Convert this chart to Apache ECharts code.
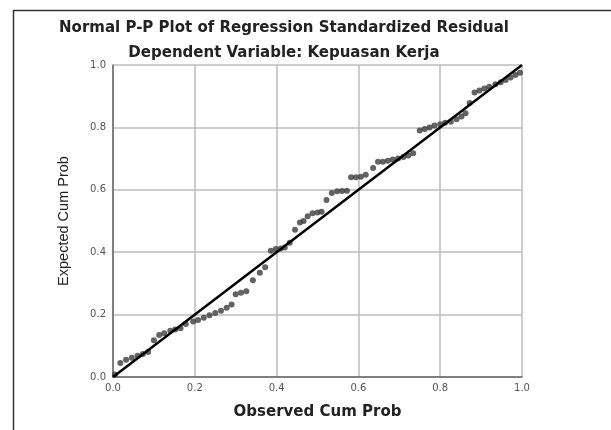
<!DOCTYPE html>
<html>
<head>
<meta charset="utf-8">
<script src="https://cdn.jsdelivr.net/npm/echarts@6/dist/echarts.min.js"></script>
<style>html,body{margin:0;padding:0;background:#fff;}#c{width:611px;height:430px;}</style>
</head>
<body>
<div id="c"></div>
<script>
var titleText = 'Normal P-P Plot of Regression Standardized Residual';
var subtitleText = 'Dependent Variable: Kepuasan Kerja';
var xName = 'Observed Cum Prob';
var yName = 'Expected Cum Prob';
var tickValues = [0, 0.2, 0.4, 0.6, 0.8, 1.0];
var observed = [
  0.005,0.018,0.032,0.046,0.060,0.073,0.086,
  0.100,0.113,0.125,0.140,0.152,0.165,0.178,
  0.196,0.208,0.222,0.236,0.250,0.264,0.278,0.290,
  0.300,0.313,0.326,0.342,0.359,0.372,
  0.386,0.398,0.410,0.420,0.432,0.445,0.457,0.466,0.476,0.488,0.500,0.510,0.522,
  0.535,0.548,0.560,0.572,
  0.582,0.594,0.606,0.618,0.636,
  0.648,0.660,0.672,0.684,0.697,0.710,0.722,0.734,
  0.750,0.762,0.774,0.786,0.800,0.812,0.826,0.840,0.852,0.862,
  0.872,0.884,0.896,0.908,0.920,0.935,0.948,0.960,0.972,0.984,0.995
];
var expected = [
  0.008,0.045,0.055,0.062,0.068,0.074,0.080,
  0.118,0.135,0.140,0.148,0.152,0.156,0.170,
  0.178,0.183,0.190,0.198,0.205,0.212,0.222,0.232,
  0.265,0.270,0.275,0.310,0.334,0.352,
  0.405,0.410,0.412,0.415,0.430,0.472,0.495,0.500,0.515,0.525,0.527,0.530,0.567,
  0.590,0.595,0.596,0.597,
  0.640,0.640,0.642,0.648,0.670,
  0.690,0.690,0.693,0.697,0.700,0.705,0.710,0.717,
  0.790,0.795,0.800,0.806,0.810,0.815,0.818,0.826,0.835,0.845,
  0.878,0.912,0.918,0.925,0.930,0.938,0.945,0.952,0.960,0.968,0.975
];
var refLineX = [0, 1];
var refLineY = [0, 1];

var points = observed.map(function (x, i) { return [x, expected[i]]; });
var refLine = refLineX.map(function (x, i) { return [x, refLineY[i]]; });

var chart = echarts.init(document.getElementById('c'), null, {renderer: 'canvas'});
var labelStyle = {color: '#555', fontFamily: 'DejaVu Sans', fontSize: 10};
var gridStyle = {show: true, lineStyle: {color: '#bdbdbd', width: 1.5}};
chart.setOption({
  backgroundColor: '#fff',
  animation: false,
  grid: {left: 113, right: 89, top: 65, bottom: 53},
  xAxis: {
    type: 'value', min: 0, max: 1, interval: 0.2,
    name: xName, nameLocation: 'middle', nameGap: 28,
    nameTextStyle: {fontFamily: 'DejaVu Sans', fontWeight: 'bold', fontSize: 15, color: '#222'},
    axisLine: {show: true, lineStyle: {color: '#666', width: 1.5}},
    axisTick: {show: false},
    axisLabel: Object.assign({margin: 6, formatter: function (v) { return v.toFixed(1); }}, labelStyle),
    splitLine: gridStyle
  },
  yAxis: {
    type: 'value', min: 0, max: 1, interval: 0.2,
    name: yName, nameLocation: 'middle', nameGap: 42, nameRotate: 90,
    nameTextStyle: {fontFamily: 'Liberation Sans', fontSize: 14.5, color: '#222'},
    axisLine: {show: true, lineStyle: {color: '#666', width: 1.5}},
    axisTick: {show: false},
    axisLabel: Object.assign({margin: 7, formatter: function (v) { return v.toFixed(1); }}, labelStyle),
    splitLine: gridStyle
  },
  graphic: [
    {type: 'rect', left: 11, top: 8, silent: true, z: 100,
     shape: {x: 0, y: 0, width: 700, height: 500},
     style: {fill: 'none', stroke: '#333', lineWidth: 1.5}},
    {type: 'text', x: 284, y: 28, z: 100,
     style: {text: titleText, textAlign: 'center', textVerticalAlign: 'middle',
             font: 'bold 15px "DejaVu Sans"', fill: '#222'}},
    {type: 'text', x: 284, y: 53, z: 100,
     style: {text: subtitleText, textAlign: 'center', textVerticalAlign: 'middle',
             font: 'bold 15px "DejaVu Sans"', fill: '#222'}}
  ],
  series: [
    {type: 'scatter', data: points, symbol: 'circle', symbolSize: 6,
     itemStyle: {color: '#3c3c3c'}, z: 3},
    {type: 'line', data: refLine, symbol: 'none', z: 4,
     lineStyle: {color: '#000', width: 2.5}}
  ]
});
</script>
</body>
</html>
